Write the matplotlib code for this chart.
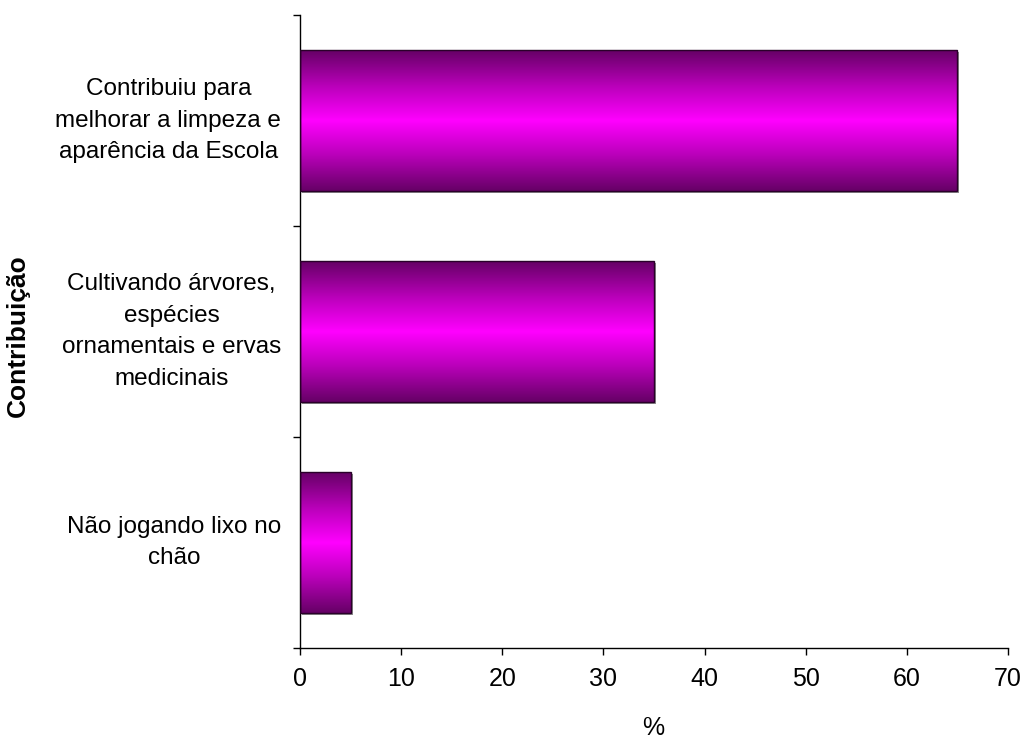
import numpy as np
import matplotlib
matplotlib.use("Agg")
import matplotlib.pyplot as plt
from matplotlib.colors import LinearSegmentedColormap
from matplotlib.transforms import ScaledTranslation
from matplotlib.ticker import FixedLocator, NullFormatter

# Data
categories = [
    "Não jogando lixo no\nchão",
    "Cultivando árvores,\nespécies\nornamentais e ervas\nmedicinais",
    "Contribuiu para\nmelhorar a limpeza e\naparência da Escola",
]
values = [5, 35, 65]
x_ticks = [0, 10, 20, 30, 40, 50, 60, 70]

plt.rcParams["font.family"] = ["Liberation Sans", "DejaVu Sans"]

fig = plt.figure(figsize=(10.24, 7.40), dpi=100)
ax = fig.add_axes([300 / 1024, 1 - 648 / 740, 708 / 1024, 633 / 740])

ypos = np.arange(len(categories))
bar_h = 0.665

# drop shadow behind each bar
shadow = ax.barh(ypos, values, height=bar_h, color="#8c8c8c", zorder=1)
offset = ScaledTranslation(2 / 100, -2 / 100, fig.dpi_scale_trans)
for p in shadow:
    p.set_transform(ax.transData + offset)

# bar outlines
bars = ax.barh(ypos, values, height=bar_h, facecolor="none",
               edgecolor="#2a002a", linewidth=1.0, zorder=3)

# vertical purple-magenta-purple gradient fill
cmap = LinearSegmentedColormap.from_list(
    "grad", ["#660066", "#b800b8", "#ff00ff", "#b800b8", "#660066"])
grad = np.linspace(0, 1, 256).reshape(-1, 1)
for b in bars:
    x0, y0 = b.get_x(), b.get_y()
    w, h = b.get_width(), b.get_height()
    im = ax.imshow(grad, cmap=cmap, aspect="auto", origin="lower",
                   extent=[x0, x0 + w, y0, y0 + h], zorder=2,
                   interpolation="bilinear")
    im.set_clip_path(b)

ax.set_xlim(0, 70)
ax.set_ylim(-0.5, len(categories) - 0.5)

# x axis
ax.set_xticks(x_ticks)
ax.set_xticklabels([str(t) for t in x_ticks], fontsize=18)
ax.tick_params(axis="x", direction="out", length=5, width=1, pad=9,
               colors="black")

# y axis: labels at bar centres, tick marks at category boundaries
ax.set_yticks(ypos)
ax.set_yticklabels(categories, fontsize=17.5, ha="right", va="center",
                   multialignment="center", linespacing=1.58)
ax.tick_params(axis="y", which="major", length=0, pad=13.5)
ax.yaxis.set_minor_locator(FixedLocator(np.arange(-0.5, len(categories), 1.0)))
ax.yaxis.set_minor_formatter(NullFormatter())
ax.tick_params(axis="y", which="minor", direction="out", length=5, width=1)

for s in ["top", "right"]:
    ax.spines[s].set_visible(False)
for s in ["left", "bottom"]:
    ax.spines[s].set_linewidth(1)
    ax.spines[s].set_color("black")

ax.set_xlabel("%", fontsize=18)
ax.xaxis.set_label_coords(653 / 1024, 0.0, transform=fig.transFigure)
ax.xaxis.label.set_va("bottom")
ax.set_ylabel("Contribuição", fontsize=19, fontweight="bold")
ax.yaxis.set_label_coords(18 / 1024, 1 - 336 / 740, transform=fig.transFigure)
ax.yaxis.label.set_va("center")

fig.savefig("out.png", dpi=100, facecolor="white")
